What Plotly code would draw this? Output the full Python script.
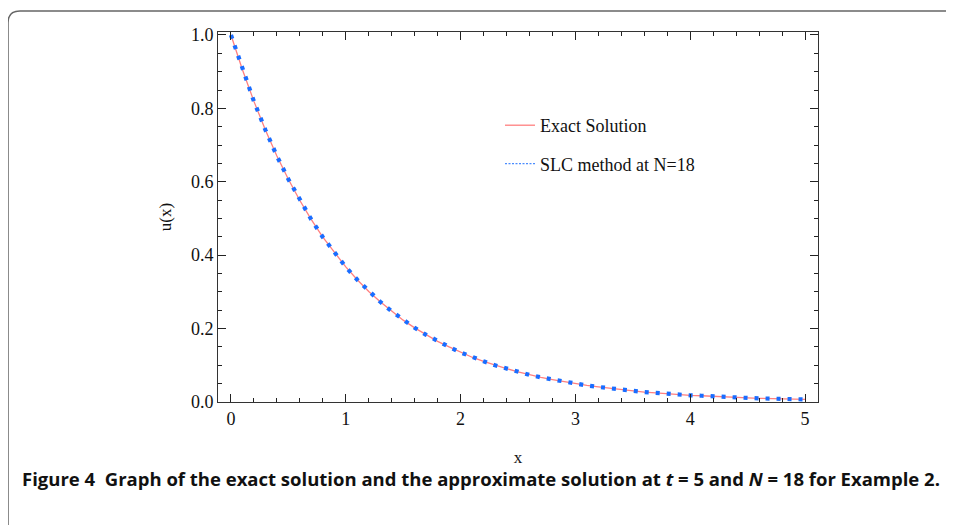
import plotly.graph_objects as go

# values
x_vals = [0.0, 0.1, 0.2, 0.3, 0.4, 0.5, 0.6, 0.7, 0.8, 0.9,
          1.0, 1.1, 1.2, 1.3, 1.4, 1.5, 1.6, 1.7, 1.8, 1.9,
          2.0, 2.1, 2.2, 2.3, 2.4, 2.5, 2.6, 2.7, 2.8, 2.9,
          3.0, 3.1, 3.2, 3.3, 3.4, 3.5, 3.6, 3.7, 3.8, 3.9,
          4.0, 4.1, 4.2, 4.3, 4.4, 4.5, 4.6, 4.7, 4.8, 4.9, 5.0]
exact_vals = [1.000, 0.905, 0.819, 0.741, 0.670, 0.607, 0.549, 0.497, 0.449, 0.407,
              0.368, 0.333, 0.301, 0.273, 0.247, 0.223, 0.202, 0.183, 0.165, 0.150,
              0.135, 0.122, 0.111, 0.100, 0.091, 0.082, 0.074, 0.067, 0.061, 0.055,
              0.050, 0.045, 0.041, 0.037, 0.033, 0.030, 0.027, 0.025, 0.022, 0.020,
              0.018, 0.017, 0.015, 0.014, 0.012, 0.011, 0.010, 0.009, 0.008, 0.007, 0.007]
slc_vals = list(exact_vals)

x_ticks = [0, 1, 2, 3, 4, 5]
y_ticks = [0.0, 0.2, 0.4, 0.6, 0.8, 1.0]
y_tick_labels = ["0.0", "0.2", "0.4", "0.6", "0.8", "1.0"]

names = ["Exact Solution", "SLC method at N=18"]
caption = ("<b>Figure 4  Graph of the exact solution and the approximate solution at "
           "<i>t</i> = 5 and <i>N</i> = 18 for Example 2.</b>")

OFF = 8  # page body margin
W, H = 954 - OFF, 525 - OFF
L, R, T, B = 218 - OFF, 818 - OFF, 32 - OFF, 402 - OFF

RED = "#ff7f7f"
BLUE = "#1a6dff"

fig = go.Figure()
fig.add_trace(go.Scatter(x=x_vals, y=exact_vals, mode="lines", name=names[0],
                         line=dict(color=RED, width=1.3), legendgroup="a"))
fig.add_trace(go.Scatter(x=x_vals, y=slc_vals, mode="lines", name=names[1],
                         line=dict(color=BLUE, width=4.2, dash="4px,7px"),
                         legendgroup="b", showlegend=False))
# legend proxy for the thin dotted legend sample
fig.add_trace(go.Scatter(x=[None], y=[None], mode="lines", name=names[1],
                         line=dict(color="#4a8cff", width=1.2, dash="2px,1.5px"),
                         legendgroup="b", showlegend=True, hoverinfo="skip"))

serif = "Liberation Serif"
axis_common = dict(showline=True, linecolor="#333", linewidth=1, mirror="allticks",
                   ticks="inside", ticklen=8, tickwidth=1, tickcolor="#222",
                   showgrid=False, zeroline=False,
                   tickfont=dict(family=serif, size=18, color="#111"))

fig.update_xaxes(range=[-0.113, 5.113], tickvals=x_ticks, ticktext=[str(v) for v in x_ticks],
                 minor=dict(dtick=0.2, ticks="inside", ticklen=4, tickcolor="#222", showgrid=False),
                 title=dict(text="x", font=dict(family=serif, size=17, color="#111"), standoff=23),
                 **axis_common)
fig.update_yaxes(range=[0, 1.008], tickvals=y_ticks, ticktext=y_tick_labels,
                 minor=dict(dtick=0.05, ticks="inside", ticklen=4, tickcolor="#222", showgrid=False),
                 title=dict(text="u(x)", font=dict(family=serif, size=17, color="#111"), standoff=14),
                 **axis_common)

def px2paper_x(px):
    # px in page pixels
    return (px - OFF - L) / (R - L)

def px2paper_y(py):
    return (B - (py - OFF)) / (B - T)

# rounded border frame around the figure
bx0, by0, rad = 8, 11, 12
path = (f"M {px2paper_x(bx0)},{px2paper_y(540)} "
        f"L {px2paper_x(bx0)},{px2paper_y(by0 + rad)} "
        f"Q {px2paper_x(bx0)},{px2paper_y(by0)} {px2paper_x(bx0 + rad)},{px2paper_y(by0)} "
        f"L {px2paper_x(970)},{px2paper_y(by0)}")
fig.add_shape(type="path", path=path, xref="paper", yref="paper",
              line=dict(color="#666", width=1.5), layer="above")

fig.add_annotation(text=caption, xref="paper", yref="paper",
                   x=px2paper_x(481), y=px2paper_y(478), xanchor="center", yanchor="middle",
                   showarrow=False, font=dict(family="Open Sans", size=18.5, color="#111"))

fig.update_layout(
    width=W, height=H,
    margin=dict(l=L, r=W - R, t=T, b=H - B, pad=0),
    paper_bgcolor="white", plot_bgcolor="white",
    showlegend=True,
    legend=dict(x=px2paper_x(500), y=px2paper_y(107), xanchor="left", yanchor="top",
                bgcolor="rgba(0,0,0,0)", font=dict(family=serif, size=18, color="#111"),
                tracegroupgap=12, itemwidth=30),
)

fig.write_html("out.html")
